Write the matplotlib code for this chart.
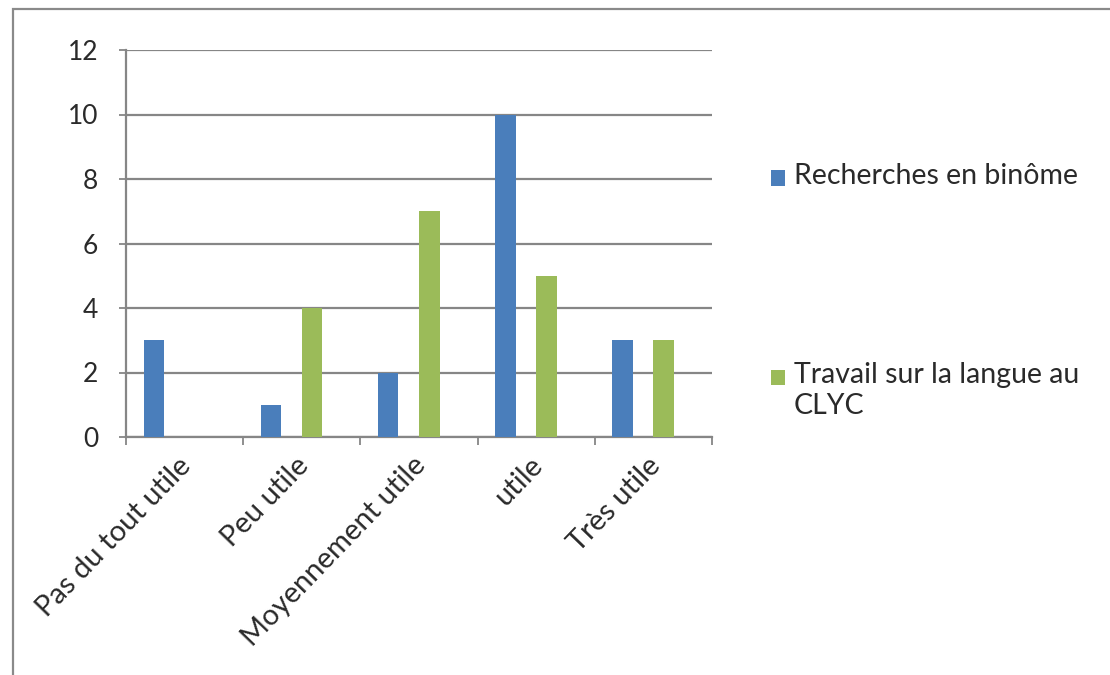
import matplotlib
matplotlib.use("Agg")
import matplotlib.pyplot as plt
import matplotlib.transforms as mtransforms
from matplotlib.patches import Rectangle
import numpy as np

categories = ["Pas du tout utile", "Peu utile", "Moyennement utile", "utile", "Très utile"]
series_names = ["Recherches en binôme", "Travail sur la langue au\nCLYC"]
recherches = [3, 1, 2, 10, 3]
travail = [0, 4, 7, 5, 3]
y_ticks = [0, 2, 4, 6, 8, 10, 12]

BLUE = "#4a7ebb"
GREEN = "#9bbb59"
GRID = "#868686"
TEXT = "#2a2a2a"

plt.rcParams['font.family'] = ['Lato', 'DejaVu Sans']

W, H = 1110, 675
fig = plt.figure(figsize=(W / 100, H / 100), dpi=100)
fig.patch.set_facecolor("white")

# outer frame (left and top visible)
fig.patches.append(Rectangle((13 / W, -0.1), 1.2, 1 - 9 / H + 0.1, transform=fig.transFigure,
                             fill=False, edgecolor="#8a8a8a", linewidth=1.6))

ax = fig.add_axes([126 / W, 1 - 437 / H, (712 - 126) / W, (437 - 50) / H])
x = np.arange(len(categories))
w = 0.175
ax.bar(x - 1.5 * w, recherches, width=w, color=BLUE, zorder=3)
ax.bar(x + 0.5 * w, travail, width=w, color=GREEN, zorder=3)

ax.set_xlim(-0.5, len(categories) - 0.5)
ax.set_ylim(0, 12)
ax.set_yticks(y_ticks)
ax.set_yticklabels([str(v) for v in y_ticks])
ax.yaxis.grid(True, color=GRID, linewidth=1.6, zorder=0)
ax.set_axisbelow(True)

for s in ["top", "right"]:
    ax.spines[s].set_visible(False)
for s in ["left", "bottom"]:
    ax.spines[s].set_color(GRID)
    ax.spines[s].set_linewidth(1.6)

ax.tick_params(axis="y", direction="out", length=5, width=1.3, color=GRID,
               pad=15, labelsize=19, labelcolor=TEXT)

# boundaries ticks (major) and category labels (minor)
ax.set_xticks(np.arange(len(categories) + 1) - 0.5)
ax.set_xticklabels([])
ax.set_xticks(x, minor=True)
ax.set_xticklabels(categories, minor=True, rotation=46, ha="right", va="top",
                   fontsize=21, color=TEXT)
ax.tick_params(axis="x", which="major", direction="out", length=6, width=1.3, color=GRID)
ax.tick_params(axis="x", which="minor", length=0, pad=11)
offset = mtransforms.ScaledTranslation(12 / 100, 0, fig.dpi_scale_trans)
for lbl in ax.get_xticklabels(minor=True):
    lbl.set_transform(lbl.get_transform() + offset)

# legend
leg_items = [(series_names[0], BLUE, 178), (series_names[1], GREEN, 377)]
for name, col, yc in leg_items:
    fig.patches.append(Rectangle((771 / W, 1 - (yc + 7.5) / H), 14 / W, 15 / H,
                                 transform=fig.transFigure, facecolor=col, edgecolor="none"))
    fig.text(794 / W, 1 - (yc - 15) / H, name, fontsize=20.5, color=TEXT, ha="left", va="top",
             linespacing=1.25)

fig.savefig("out.png", dpi=100, facecolor="white")
